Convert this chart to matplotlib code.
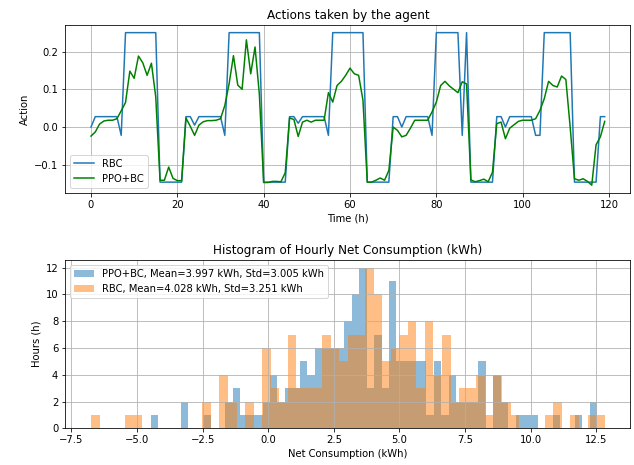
import numpy as np
import matplotlib
matplotlib.use("Agg")
import matplotlib.pyplot as plt

# hourly actions (first 120 h)
hours = list(range(120))

rbc_actions = [
        0.0, 0.0275, 0.0275, 0.0275, 0.0275, 0.0275, 0.0275, -0.022, 0.25, 0.25,
        0.25, 0.25, 0.25, 0.25, 0.25, 0.25, -0.146, -0.146, -0.146, -0.146,
        -0.146, -0.146, 0.0275, 0.0275, 0.005, 0.0275, 0.0275, 0.0275, 0.0275, 0.0275,
        0.0275, -0.022, 0.25, 0.25, 0.25, 0.25, 0.25, 0.25, 0.25, 0.25,
        -0.146, -0.146, -0.146, -0.146, -0.146, -0.146, 0.0275, 0.0275, 0.01, 0.0275,
        0.0275, 0.0275, 0.0275, 0.0275, 0.0275, -0.022, 0.25, 0.25, 0.25, 0.25,
        0.25, 0.25, 0.25, 0.25, -0.146, -0.146, -0.146, -0.146, -0.146, -0.146,
        0.0275, 0.0275, 0.0, 0.0275, 0.0275, 0.0275, 0.0275, 0.0275, 0.0275, -0.022,
        0.25, 0.25, 0.25, 0.25, 0.25, 0.25, -0.022, 0.25, -0.146, -0.146,
        -0.146, -0.146, -0.146, -0.146, 0.0275, 0.0275, 0.0, 0.0275, 0.0275, 0.0275,
        0.0275, 0.0275, 0.0275, -0.022, -0.022, 0.25, 0.25, 0.25, 0.25, 0.25,
        0.25, 0.25, -0.146, -0.146, -0.146, -0.146, -0.146, -0.146, 0.0275, 0.0275]

ppo_actions = [
        -0.024, -0.013, 0.008, 0.016, 0.018, 0.018, 0.022, 0.043, 0.065, 0.148,
        0.129, 0.188, 0.170, 0.137, 0.169, 0.080, -0.141, -0.141, -0.106, -0.136,
        -0.142, -0.142, 0.024, 0.002, -0.022, 0.005, 0.014, 0.017, 0.017, 0.018,
        0.022, 0.057, 0.115, 0.189, 0.111, 0.100, 0.231, 0.141, 0.212, 0.087,
        -0.147, -0.147, -0.144, -0.144, -0.145, -0.121, 0.024, 0.020, -0.025, 0.013,
        0.018, 0.013, 0.018, 0.018, 0.018, 0.091, 0.066, 0.110, 0.121, 0.137,
        0.156, 0.141, 0.137, 0.071, -0.146, -0.146, -0.141, -0.135, -0.141, -0.115,
        0.000, -0.009, -0.026, -0.022, -0.003, 0.018, 0.018, 0.018, 0.018, 0.040,
        0.066, 0.110, 0.121, 0.109, 0.100, 0.091, 0.120, 0.114, -0.140, -0.145,
        -0.142, -0.138, -0.145, -0.120, 0.009, 0.013, -0.031, -0.003, 0.006, 0.015,
        0.018, 0.018, 0.018, 0.022, 0.044, 0.075, 0.121, 0.110, 0.106, 0.135,
        0.126, 0.000, -0.137, -0.141, -0.137, -0.144, -0.154, -0.047, -0.026, 0.015]

# histogram counts per bin (60 bins over each series' range)
ppo_range = (-4.467, 12.543)
ppo_counts = [
        1, 0, 0, 0, 2, 0, 0, 1, 0, 0,
        2, 3, 1, 1, 1, 2, 4, 2, 3, 3,
        5, 4, 6, 6, 6, 6, 8, 10, 12, 3,
        7, 3, 11, 5, 5, 5, 5, 1, 5, 1,
        4, 2, 2, 2, 5, 0, 4, 2, 0, 1,
        1, 1, 0, 0, 1, 0, 0, 1, 0, 2]

rbc_range = (-6.755, 12.824)
rbc_counts = [
        1, 0, 0, 0, 1, 1, 0, 0, 0, 0,
        0, 0, 0, 2, 0, 4, 2, 0, 2, 0,
        6, 3, 2, 7, 3, 3, 3, 7, 6, 5,
        7, 7, 12, 10, 5, 6, 7, 8, 3, 8,
        4, 7, 2, 3, 3, 4, 1, 4, 2, 1,
        0, 0, 0, 1, 2, 0, 1, 0, 1, 1]

ppo_label = "PPO+BC, Mean=3.997 kWh, Std=3.005 kWh"
rbc_label = "RBC, Mean=4.028 kWh, Std=3.251 kWh"


def hist_counts(ax, value_range, counts, **kw):
        # rebuild the bins and draw counts as weights
        edges = np.linspace(value_range[0], value_range[1], len(counts) + 1)
        centers = (edges[:-1] + edges[1:]) / 2
        ax.hist(centers, bins=edges, weights=counts, alpha=0.5, **kw)


def main():
        fig = plt.figure(figsize=(634 / 72, 465 / 72), dpi=72)

        # actions
        ax1 = fig.add_axes([0.103, 0.5854, 0.8913, 0.3608])
        ax1.plot(hours, rbc_actions, label="RBC")
        ax1.plot(hours, ppo_actions, color="green", label="PPO+BC")
        ax1.set_title("Actions taken by the agent")
        ax1.set_xlabel("Time (h)")
        ax1.set_ylabel("Action")
        ax1.legend(loc="lower left")
        ax1.grid(True)

        # histogram
        ax2 = fig.add_axes([0.103, 0.0789, 0.8913, 0.3630])
        hist_counts(ax2, ppo_range, ppo_counts, label=ppo_label)
        hist_counts(ax2, rbc_range, rbc_counts, label=rbc_label)
        ax2.set_title("Histogram of Hourly Net Consumption (kWh)")
        ax2.set_xlabel("Net Consumption (kWh)")
        ax2.set_ylabel("Hours (h)")
        ax2.legend(loc="upper left")
        ax2.grid(True)

        fig.savefig("out.png", dpi=72)


if __name__ == '__main__':
        main()
